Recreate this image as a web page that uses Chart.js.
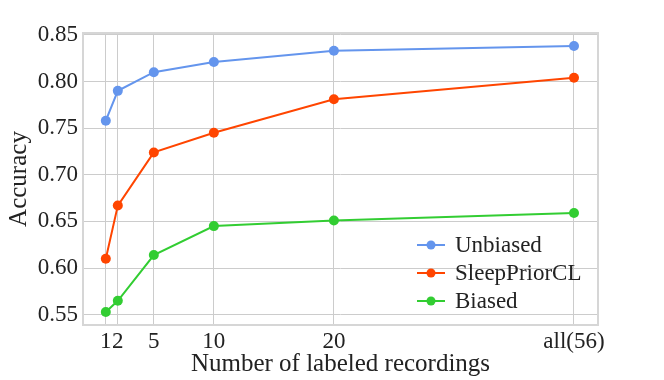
<!DOCTYPE html>
<html>
<head>
<meta charset="utf-8">
<script src="https://cdn.jsdelivr.net/npm/chart.js@4"></script>
<style>
  html, body { margin: 0; padding: 0; background: #fff; }
  #wrap { width: 664px; height: 380px; }
</style>
</head>
<body>
<div id="wrap"><canvas id="chart" width="664" height="380"></canvas></div>
<script>
// x positions of the recordings (all = 56 drawn at 40)
const xPositions = [1, 2, 5, 10, 20, 40]
const xLabels = ['1', '2', '5', '10', '20', 'all(56)']
const yTicks = [0.55, 0.60, 0.65, 0.70, 0.75, 0.80, 0.85]

const unbiased = [0.758, 0.790, 0.810, 0.821, 0.833, 0.838]
const sleepPriorCL = [0.610, 0.667, 0.724, 0.745, 0.781, 0.804]
const biased = [0.553, 0.565, 0.614, 0.645, 0.651, 0.659]

const font = "'Liberation Serif', 'Times New Roman', serif"

function points(values) {
  return values.map((v, i) => ({ x: xPositions[i], y: v }))
}

function makeSet(label, values, color) {
  return {
    label: label,
    data: points(values),
    borderColor: color,
    backgroundColor: color,
    borderWidth: 2,
    pointRadius: 5,
    pointHoverRadius: 5,
    pointBorderWidth: 0
  }
}

// frame + legend drawn inside the plot area
const framePlugin = {
  id: 'frame',
  afterDraw(chart) {
    const ctx = chart.ctx
    const a = chart.chartArea
    ctx.save()
    ctx.strokeStyle = '#d6d6d6'
    ctx.lineWidth = 2
    ctx.strokeRect(a.left, a.top, a.right - a.left, a.bottom - a.top)

    const x0 = a.left + 334
    let y = a.top + 212
    ctx.font = "23px " + font
    ctx.textBaseline = 'middle'
    chart.data.datasets.forEach(ds => {
      ctx.strokeStyle = ds.borderColor
      ctx.fillStyle = ds.borderColor
      ctx.lineWidth = 2
      ctx.beginPath()
      ctx.moveTo(x0, y)
      ctx.lineTo(x0 + 28, y)
      ctx.stroke()
      ctx.beginPath()
      ctx.arc(x0 + 14, y, 4.5, 0, Math.PI * 2)
      ctx.fill()
      ctx.fillStyle = '#222'
      ctx.fillText(ds.label, x0 + 38, y + 1)
      y += 28
    })
    ctx.restore()
  }
}

const ctx = document.getElementById('chart').getContext('2d')
new Chart(ctx, {
  type: 'line',
  data: {
    datasets: [
      makeSet('Unbiased', unbiased, '#6495ED'),
      makeSet('SleepPriorCL', sleepPriorCL, '#FF4500'),
      makeSet('Biased', biased, '#32CD32')
    ]
  },
  options: {
    responsive: false,
    animation: false,
    layout: { padding: { left: 0, right: 66, top: 33, bottom: 0 } },
    plugins: {
      legend: { display: false },
      tooltip: { enabled: false }
    },
    scales: {
      x: {
        type: 'linear',
        min: -0.9,
        max: 42,
        afterFit: axis => { axis.height = 55 },
        afterBuildTicks: axis => {
          axis.ticks = xPositions.map(v => ({ value: v }))
        },
        ticks: {
          autoSkip: false,
          maxRotation: 0,
          minRotation: 0,
          padding: 3,
          color: '#222',
          font: { family: font, size: 23 },
          callback: function (value) {
            const i = xPositions.indexOf(value)
            return i >= 0 ? xLabels[i] : ''
          }
        },
        grid: { color: '#cccccc', lineWidth: 1, drawTicks: false },
        border: { display: false },
        title: {
          display: true,
          text: 'Number of labeled recordings',
          color: '#222',
          font: { family: font, size: 25 },
          padding: { top: 0, bottom: 1 }
        }
      },
      y: {
        min: 0.539,
        max: 0.852,
        afterFit: axis => { axis.width = 83 },
        afterBuildTicks: axis => {
          axis.ticks = yTicks.map(v => ({ value: v }))
        },
        ticks: {
          padding: 5,
          color: '#222',
          font: { family: font, size: 23 },
          callback: value => value.toFixed(2)
        },
        grid: { color: '#cccccc', lineWidth: 1, drawTicks: false },
        border: { display: false },
        title: {
          display: true,
          text: 'Accuracy',
          color: '#222',
          font: { family: font, size: 25 },
          padding: { top: 4, bottom: 0 }
        }
      }
    }
  },
  plugins: [framePlugin]
})
</script>
</body>
</html>
